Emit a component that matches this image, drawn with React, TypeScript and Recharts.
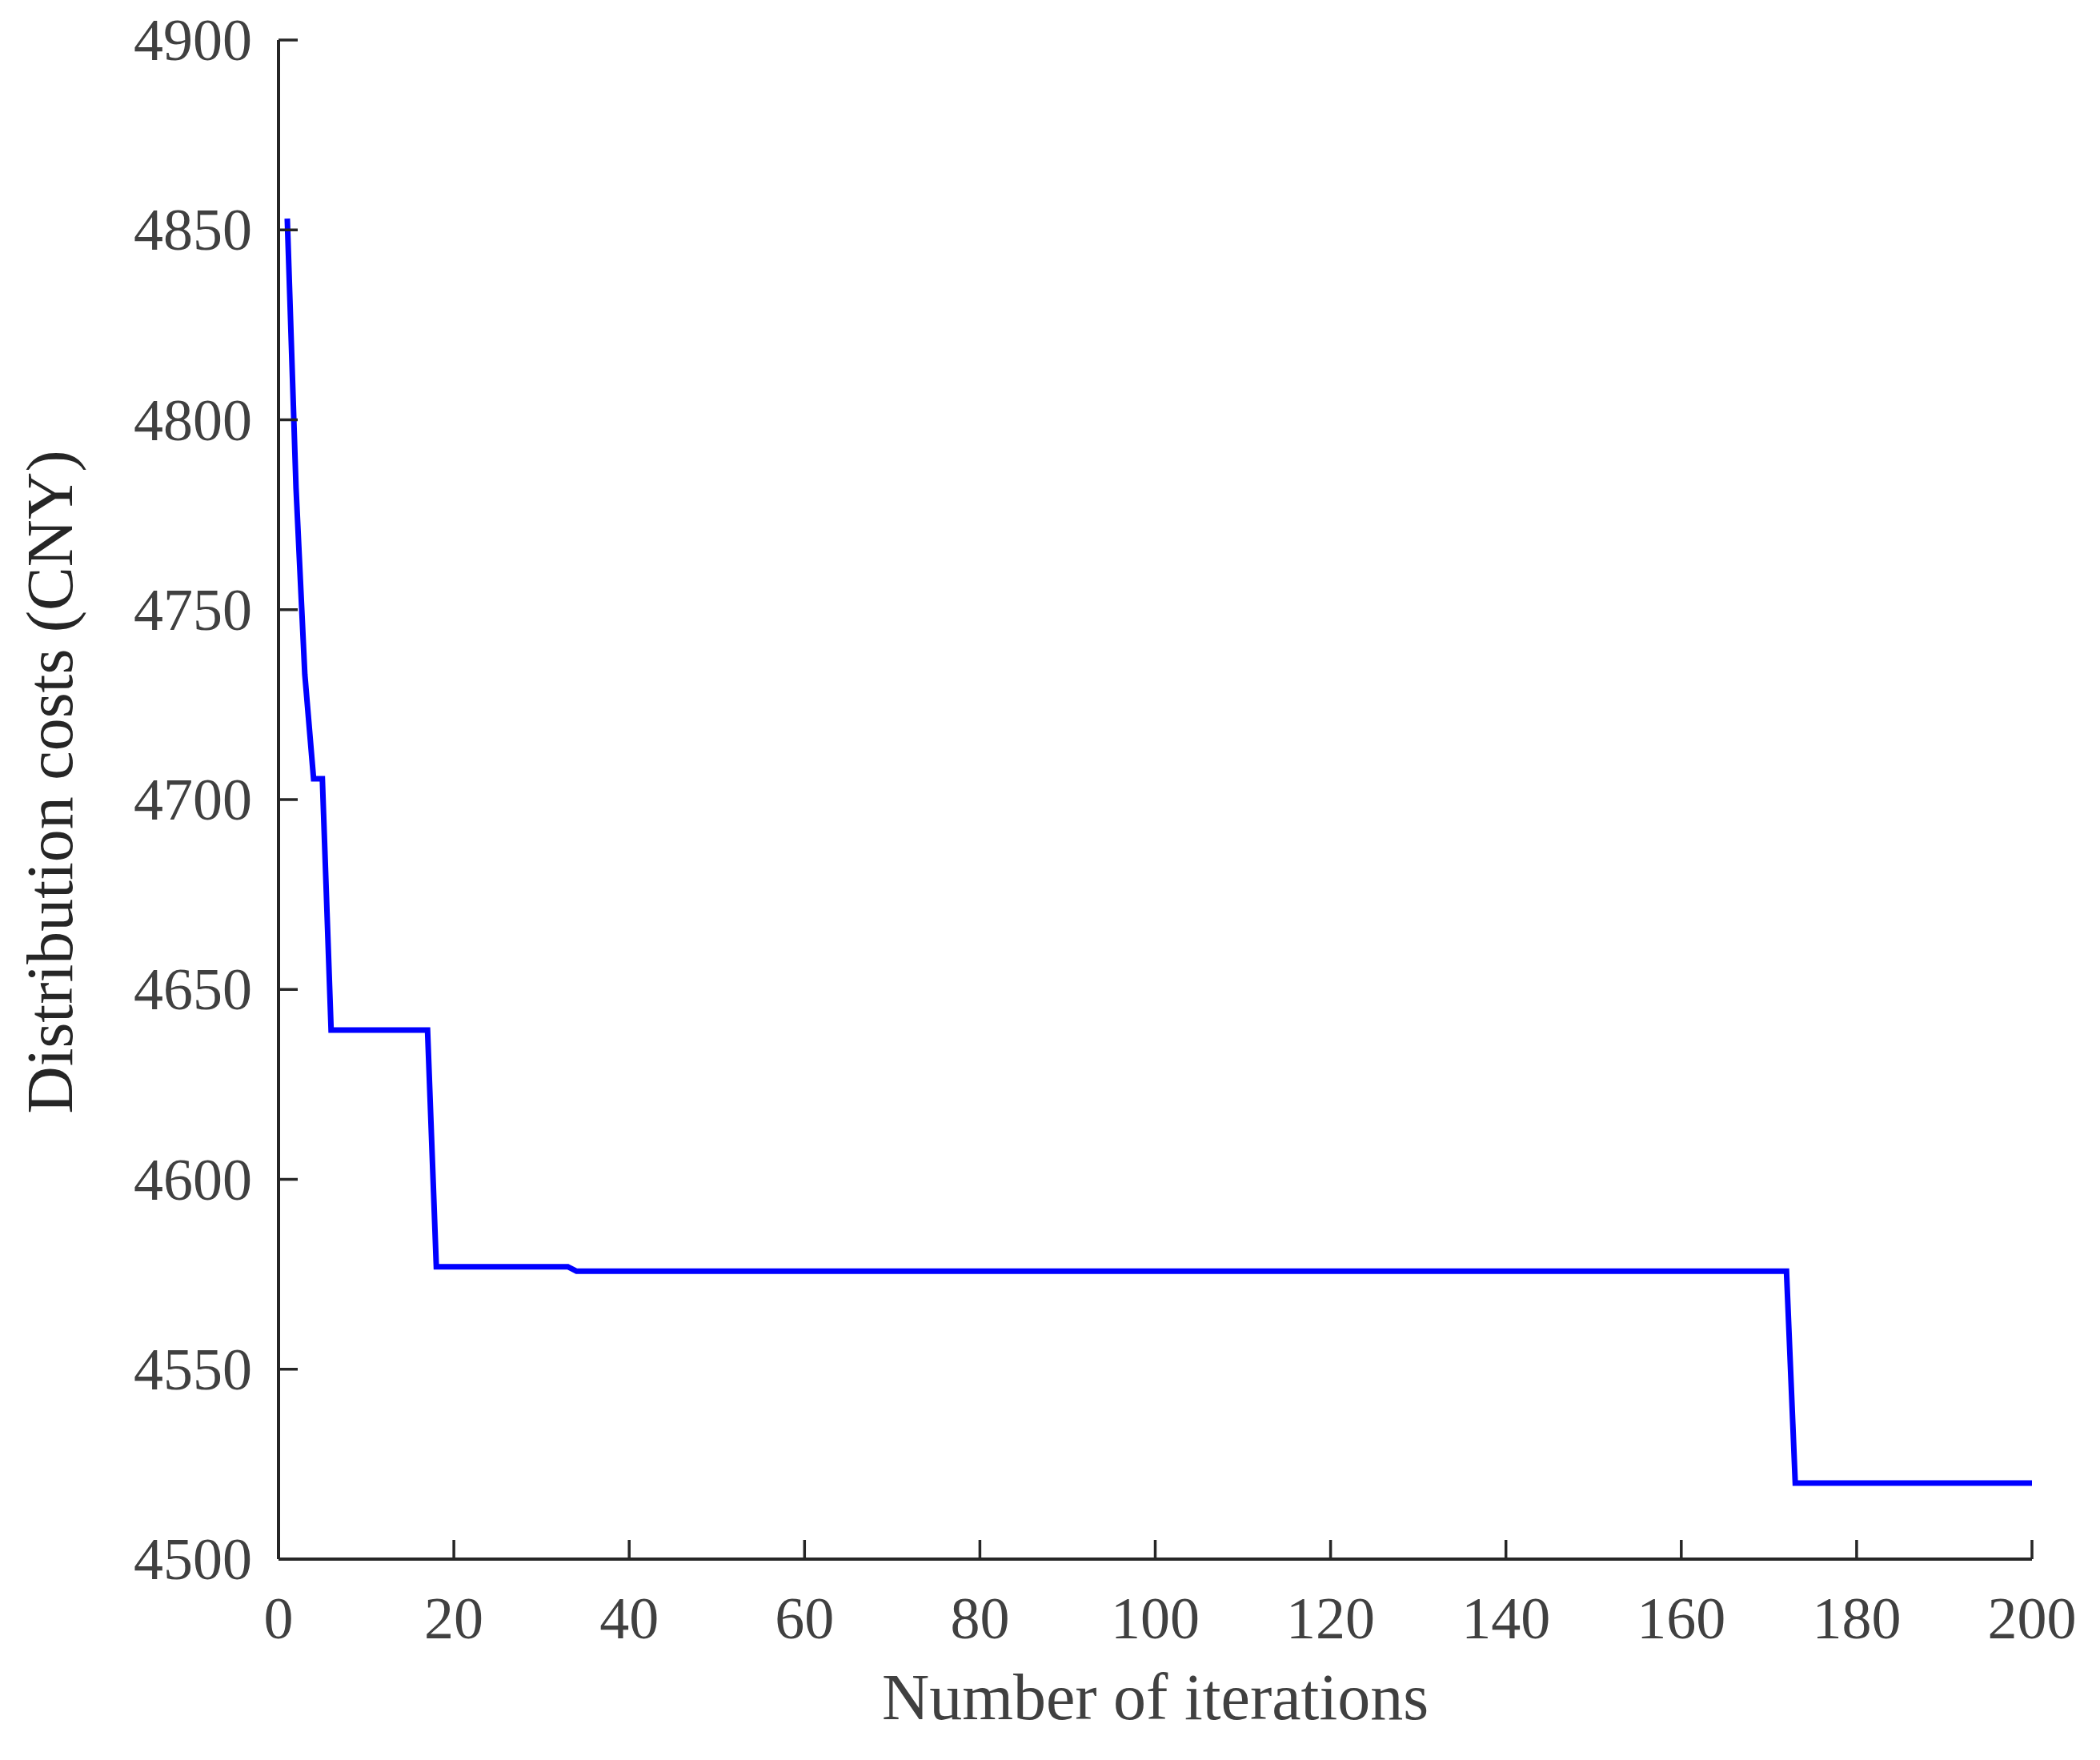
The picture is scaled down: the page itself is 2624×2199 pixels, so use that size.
import React from 'react';
import { LineChart, Line, XAxis, YAxis, Label } from 'recharts';

// Iteration numbers where the convergence curve changes slope (the curve is straight between them)
const iterations = [1, 2, 3, 4, 5, 6, 17, 18, 33, 34, 172, 173, 200];
// Distribution cost (CNY) at those iterations
const costs = [4853, 4782, 4733, 4705.5, 4705.5, 4639.3, 4639.3, 4577, 4577, 4575.8, 4575.8, 4520, 4520];

const xTicks = [0, 20, 40, 60, 80, 100, 120, 140, 160, 180, 200];
const yTicks = [4500, 4550, 4600, 4650, 4700, 4750, 4800, 4850, 4900];

const xLabelText = 'Number of iterations';
const yLabelText = 'Distribution costs (CNY)';

const data = iterations.map((it, i) => ({ iter: it, cost: costs[i] }));

const FONT = '"Liberation Serif", "Times New Roman", serif';
const AXIS_COLOR = '#262626';
const TEXT_COLOR = '#404040';

const XTick = (props: any) => {
  const { x, y, payload } = props;
  return (
    <g>
      <line x1={x} y1={y} x2={x} y2={y - 24} stroke={AXIS_COLOR} strokeWidth={3.5} />
      <text x={x} y={y + 99} textAnchor="middle" fontFamily={FONT} fontSize={74} fill={TEXT_COLOR}>
        {payload.value}
      </text>
    </g>
  );
};

const YTick = (props: any) => {
  const { x, y, payload } = props;
  return (
    <g>
      <line x1={x} y1={y} x2={x + 24} y2={y} stroke={AXIS_COLOR} strokeWidth={3.5} />
      <text x={x - 33} y={y + 25} textAnchor="end" fontFamily={FONT} fontSize={74} fill={TEXT_COLOR}>
        {payload.value}
      </text>
    </g>
  );
};

const XLabel = (props: any) => {
  const vb = props.viewBox || {};
  const cx = vb.x + vb.width / 2;
  return (
    <text x={cx} y={vb.y + 200} textAnchor="middle" fontFamily={FONT} fontSize={82} fill={TEXT_COLOR}>
      {xLabelText}
    </text>
  );
};

const YLabel = (props: any) => {
  const vb = props.viewBox || {};
  const lx = vb.x + vb.width - 258;
  const cy = vb.y + vb.height / 2 - 22;
  return (
    <text
      x={lx}
      y={cy}
      transform={`rotate(-90, ${lx}, ${cy})`}
      textAnchor="middle"
      fontFamily={FONT}
      fontSize={82}
      fill={AXIS_COLOR}
    >
      {yLabelText}
    </text>
  );
};

export default function App() {
  return (
    <div style={{ width: 2608, height: 2180, background: '#ffffff' }}>
      <LineChart
        width={2608}
        height={2180}
        data={data}
        margin={{ top: 42, right: 77, bottom: 140, left: 240 }}
        style={{ display: 'block' }}
      >
        <XAxis
          dataKey="iter"
          type="number"
          domain={[0, 200]}
          ticks={xTicks}
          interval={0}
          height={100}
          tickSize={0}
          tickMargin={0}
          tickLine={false}
          axisLine={{ stroke: AXIS_COLOR, strokeWidth: 4 }}
          tick={<XTick />}
          allowDataOverflow
        >
          <Label content={<XLabel />} />
        </XAxis>
        <YAxis
          type="number"
          domain={[4500, 4900]}
          ticks={yTicks}
          interval={0}
          width={100}
          tickSize={0}
          tickMargin={0}
          tickLine={false}
          axisLine={{ stroke: AXIS_COLOR, strokeWidth: 4 }}
          tick={<YTick />}
          allowDataOverflow
        >
          <Label content={<YLabel />} />
        </YAxis>
        <Line
          dataKey="cost"
          type="linear"
          stroke="#0000FF"
          strokeWidth={7}
          dot={false}
          activeDot={false}
          isAnimationActive={false}
          strokeLinejoin="miter"
        />
      </LineChart>
    </div>
  );
}
